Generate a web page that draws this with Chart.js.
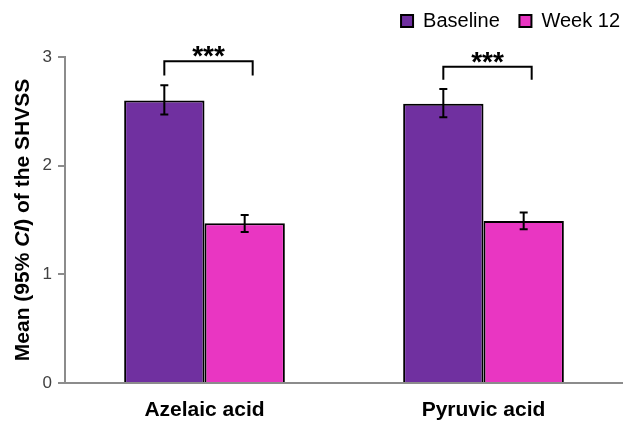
<!DOCTYPE html>
<html>
<head>
<meta charset="utf-8">
<script src="https://cdn.jsdelivr.net/npm/chart.js@4/dist/chart.umd.min.js"></script>
<style>
  html, body { margin: 0; padding: 0; background: #fff; }
  #wrap { width: 623px; height: 422px; position: relative; }
</style>
</head>
<body>
<div id="wrap"><canvas id="chart"></canvas></div>
<script>
// data
var categories = ['Azelaic acid', 'Pyruvic acid'];
var baseline = [2.60, 2.57];
var week12 = [1.47, 1.49];
var baselineLow = [2.47, 2.445];
var baselineHigh = [2.74, 2.705];
var week12Low = [1.39, 1.415];
var week12High = [1.545, 1.57];
var sigText = ['***', '***'];
var sigTop = [2.96, 2.91];
var sigLeg = [2.83, 2.79];
var yTicks = [0, 1, 2, 3];

var lows = [baselineLow, week12Low];
var highs = [baselineHigh, week12High];
var FONT = '"Liberation Sans", Arial, sans-serif';

// extra room under the legend
var legendGap = {
  id: 'legendGap',
  beforeInit: function(chart) {
    var fit = chart.legend.fit;
    chart.legend.fit = function() {
      fit.bind(chart.legend)();
      this.height += 16;
    };
  }
};

// error bars + significance brackets + y title
var extras = {
  id: 'extras',
  afterDatasetsDraw: function(chart) {
    var ctx = chart.ctx;
    var y = chart.scales.y;
    ctx.save();
    ctx.strokeStyle = '#000';
    ctx.lineWidth = 2;
    for (var d = 0; d < 2; d++) {
      var meta = chart.getDatasetMeta(d);
      meta.data.forEach(function(bar, i) {
        var x = bar.x;
        var yl = y.getPixelForValue(lows[d][i]);
        var yh = y.getPixelForValue(highs[d][i]);
        ctx.beginPath();
        ctx.moveTo(x, yl); ctx.lineTo(x, yh);
        ctx.moveTo(x - 4, yl); ctx.lineTo(x + 4, yl);
        ctx.moveTo(x - 4, yh); ctx.lineTo(x + 4, yh);
        ctx.stroke();
      });
    }
    var m0 = chart.getDatasetMeta(0), m1 = chart.getDatasetMeta(1);
    for (var i = 0; i < categories.length; i++) {
      var x1 = m0.data[i].x, x2 = m1.data[i].x + 8;
      var yt = y.getPixelForValue(sigTop[i]);
      var yb = y.getPixelForValue(sigLeg[i]);
      ctx.beginPath();
      ctx.moveTo(x1, yb); ctx.lineTo(x1, yt); ctx.lineTo(x2, yt); ctx.lineTo(x2, yb);
      ctx.stroke();
      ctx.fillStyle = '#000';
      ctx.font = 'bold 28px ' + FONT;
      ctx.textAlign = 'center';
      ctx.textBaseline = 'alphabetic';
      ctx.fillText(sigText[i], (x1 + x2) / 2, yt + 4);
    }
    var parts = [
      ['bold', 'Mean (95% '],
      ['italic bold', 'CI'],
      ['bold', ') of the SHVSS']
    ];
    ctx.translate(23, 220);
    ctx.rotate(-Math.PI / 2);
    ctx.textAlign = 'left';
    ctx.textBaseline = 'middle';
    var total = 0;
    parts.forEach(function(p) {
      ctx.font = p[0] + ' 21px ' + FONT;
      total += ctx.measureText(p[1]).width;
    });
    var cx = -total / 2;
    parts.forEach(function(p) {
      ctx.font = p[0] + ' 21px ' + FONT;
      ctx.fillText(p[1], cx, 0);
      cx += ctx.measureText(p[1]).width;
    });
    ctx.restore();
  }
};

new Chart(document.getElementById('chart'), {
  type: 'bar',
  data: {
    labels: categories,
    datasets: [
      { label: 'Baseline', data: baseline, backgroundColor: '#7030A0', borderColor: '#000', borderWidth: 2, borderSkipped: 'bottom' },
      { label: 'Week 12', data: week12, backgroundColor: '#E936C2', borderColor: '#000', borderWidth: 2, borderSkipped: 'bottom' }
    ]
  },
  options: {
    responsive: true,
    maintainAspectRatio: false,
    animation: false,
    categoryPercentage: 0.576,
    barPercentage: 1,
    layout: { padding: { top: 8, right: 0, left: 0, bottom: 0 } },
    plugins: {
      tooltip: { enabled: false },
      legend: {
        position: 'top',
        align: 'end',
        labels: {
          color: '#000',
          font: { size: 20, family: FONT },
          boxWidth: 12,
          boxHeight: 12,
          padding: 3,
          generateLabels: function(chart) {
            var items = Chart.defaults.plugins.legend.labels.generateLabels(chart);
            items[0].text = items[0].text + '   ';
            return items;
          }
        }
      }
    },
    scales: {
      x: {
        grid: { display: false, drawTicks: false },
        border: { color: '#8c8c8c', width: 2 },
        ticks: {
          color: '#000',
          padding: 15,
          font: { size: 21, weight: 'bold', family: FONT }
        },
        afterFit: function(s) { s.height = 39; }
      },
      y: {
        min: 0,
        max: 3,
        grid: { drawOnChartArea: false, drawTicks: true, tickLength: 7, color: '#8c8c8c', lineWidth: 2 },
        border: { color: '#8c8c8c', width: 2 },
        afterBuildTicks: function(s) { s.ticks = yTicks.map(function(v) { return { value: v }; }); },
        ticks: {
          color: '#404040',
          padding: 6,
          font: { size: 17, family: FONT }
        },
        afterFit: function(s) { s.width = 65; }
      }
    }
  },
  plugins: [legendGap, extras]
});
</script>
</body>
</html>
